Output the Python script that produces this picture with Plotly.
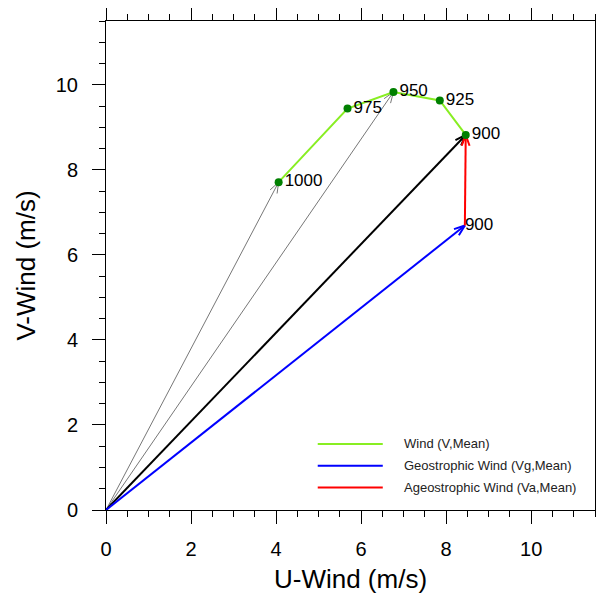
import numpy as np
import plotly.graph_objects as go

# Mean wind hodograph levels (hPa)
levels = ["1000", "975", "950", "925", "900"]
u_wind = [4.06, 5.68, 6.76, 7.85, 8.46]
v_wind = [7.71, 9.44, 9.83, 9.63, 8.82]

# Geostrophic wind at 900 hPa
ug_900 = 8.44
vg_900 = 6.69

# Levels with wind vectors drawn from origin (gray)
gray_levels = ["1000", "950"]

legend_labels = ["Wind (V,Mean)", "Geostrophic Wind (Vg,Mean)", "Ageostrophic Wind (Va,Mean)"]
legend_colors = ["#88ee22", "#0000ff", "#ff0000"]

x_ticks = [0, 2, 4, 6, 8, 10]
y_ticks = [0, 2, 4, 6, 8, 10]

FONT = "Liberation Sans, Arial, Helvetica, sans-serif"

fig = go.Figure()


def add_arrow(x0, y0, x1, y1, color, width, head=0.27, ang=20):
    fig.add_trace(go.Scatter(x=[x0, x1], y=[y0, y1], mode="lines",
                             line=dict(color=color, width=width),
                             hoverinfo="skip", showlegend=False))
    th = np.arctan2(y1 - y0, x1 - x0)
    a = np.deg2rad(ang)
    hx = [x1 - head * np.cos(th - a), x1, x1 - head * np.cos(th + a)]
    hy = [y1 - head * np.sin(th - a), y1, y1 - head * np.sin(th + a)]
    fig.add_trace(go.Scatter(x=hx, y=hy, mode="lines",
                             line=dict(color=color, width=width),
                             hoverinfo="skip", showlegend=False))


for lev in gray_levels:
    i = levels.index(lev)
    add_arrow(0, 0, u_wind[i], v_wind[i], "#777777", 1)

i900 = levels.index("900")
add_arrow(0, 0, u_wind[i900], v_wind[i900], "#000000", 2)
add_arrow(0, 0, ug_900, vg_900, "#0000ff", 2)
add_arrow(ug_900, vg_900, u_wind[i900], v_wind[i900], "#ff0000", 2)

fig.add_trace(go.Scatter(x=u_wind, y=v_wind, mode="lines",
                         line=dict(color=legend_colors[0], width=2),
                         hoverinfo="skip", showlegend=False))
fig.add_trace(go.Scatter(x=u_wind, y=v_wind, mode="markers+text",
                         marker=dict(color="#008000", size=8),
                         text=levels, textposition="middle right",
                         textfont=dict(family=FONT, size=17, color="black"),
                         showlegend=False))
fig.add_trace(go.Scatter(x=[ug_900], y=[vg_900], mode="text",
                         text=["900"], textposition="middle right",
                         textfont=dict(family=FONT, size=17, color="black"),
                         showlegend=False))

# Manual legend (paper coordinates)
for k, (lab, col) in enumerate(zip(legend_labels, legend_colors)):
    yy = 0.135 - k * 0.0445
    fig.add_shape(type="line", xref="paper", yref="paper",
                  x0=0.433, x1=0.566, y0=yy, y1=yy,
                  line=dict(color=col, width=2))
    fig.add_annotation(xref="paper", yref="paper", x=0.605, y=yy,
                       text=lab, showarrow=False, xanchor="left", yanchor="middle",
                       font=dict(family=FONT, size=13, color="#222222"))

axis_common = dict(
    range=[0, 11.5], showgrid=False, zeroline=False, automargin=False,
    showline=True, linecolor="black", linewidth=1, mirror="allticks",
    ticks="outside", ticklen=13, tickwidth=1, tickcolor="black",
    tickfont=dict(family=FONT, size=20, color="black"),
    minor=dict(dtick=0.5, ticks="outside", ticklen=6, tickwidth=1, tickcolor="black", showgrid=False),
    fixedrange=True,
)

fig.update_layout(
    width=596, height=591,
    margin=dict(l=98, r=9, t=13, b=89),
    paper_bgcolor="white", plot_bgcolor="white",
    showlegend=False,
    xaxis=dict(tickvals=x_ticks, ticktext=[str(t) for t in x_ticks],
               ticklabelstandoff=8,
               title=dict(text="U-Wind (m/s)", font=dict(family=FONT, size=26, color="black"), standoff=10),
               **axis_common),
    yaxis=dict(tickvals=y_ticks, ticktext=[str(t) for t in y_ticks],
               ticklabelstandoff=10,
               title=dict(text="V-Wind (m/s)", font=dict(family=FONT, size=26, color="black"), standoff=12),
               **axis_common),
)

fig.write_html("out.html")
